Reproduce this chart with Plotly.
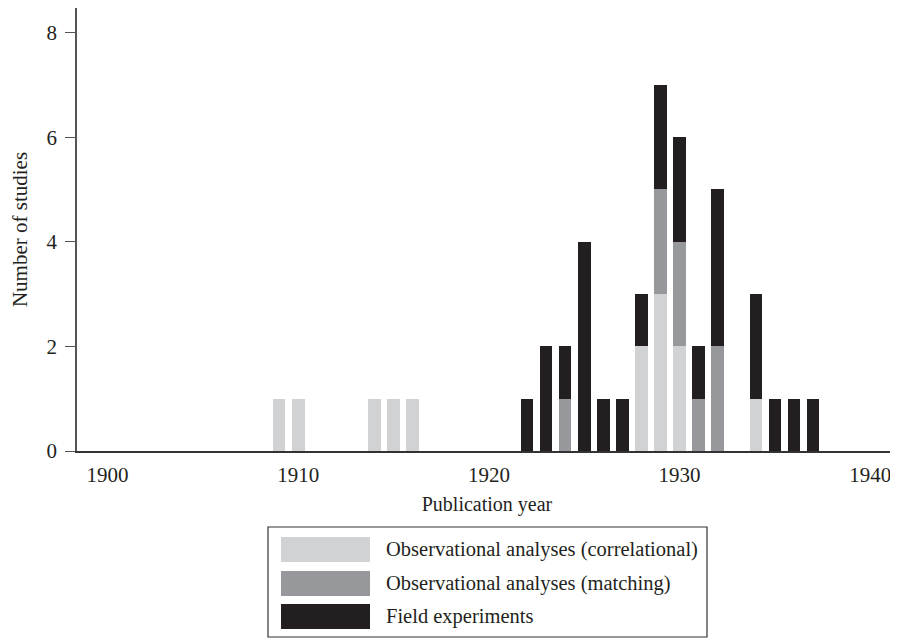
import plotly.graph_objects as go

years = [1909, 1910, 1914, 1915, 1916, 1922, 1923, 1924, 1925, 1926, 1927,
         1928, 1929, 1930, 1931, 1932, 1934, 1935, 1936, 1937]
correlational = [1, 1, 1, 1, 1, 0, 0, 0, 0, 0, 0, 2, 3, 2, 0, 0, 1, 0, 0, 0]
matching      = [0, 0, 0, 0, 0, 0, 0, 1, 0, 0, 0, 0, 2, 2, 1, 2, 0, 0, 0, 0]
field         = [0, 0, 0, 0, 0, 1, 2, 1, 4, 1, 1, 1, 2, 2, 1, 3, 2, 1, 1, 1]

series_names = ["Observational analyses (correlational)",
                "Observational analyses (matching)",
                "Field experiments"]
series_values = [correlational, matching, field]
colors = ["#d1d2d4", "#97989c", "#231f20"]

x_ticks = [1900, 1910, 1920, 1930, 1940]
y_ticks = [0, 2, 4, 6, 8]

FONT = "Liberation Serif"
TXT = "#231f20"

OFF = 8  # page body margin
W, H = 898 - OFF, 639 - OFF
L, R, T, B = 69, 1, 0, 188
PW, PH = W - L - R, H - T - B

def pxx(px):
    return (px - OFF - L) / PW

def pxy(py):
    return (H - B - (py - OFF)) / PH

fig = go.Figure()
for name, vals, col in zip(series_names, series_values, colors):
    fig.add_trace(go.Bar(x=years, y=vals, name=name, marker_color=col,
                         marker_line_width=0, width=0.66, showlegend=False))

fig.update_layout(
    barmode="stack",
    width=W, height=H,
    margin=dict(l=L, r=R, t=T, b=B, pad=0),
    plot_bgcolor="white", paper_bgcolor="white",
    font=dict(family=FONT, size=21, color=TXT),
    xaxis=dict(range=[1898.4, 1941.4], tickvals=x_ticks, showline=True,
               linecolor="#333333", linewidth=1.5, ticks="", showgrid=False,
               zeroline=False, ticklabelstandoff=4,
               title=dict(text="Publication year", standoff=11,
                          font=dict(size=20))),
    yaxis=dict(range=[0, 8.47], tickvals=y_ticks, showline=True,
               linecolor="#555555", linewidth=1.5, ticks="outside", ticklen=10,
               tickcolor="#555555", tickwidth=1.2, showgrid=False,
               zeroline=False, ticklabelstandoff=4,
               title=dict(text="Number of studies", standoff=18,
                          font=dict(size=21))),
)

# custom legend with large swatches (positions in screen pixels)
box = dict(x0=268, x1=707, y0=527, y1=637)
fig.add_shape(type="rect", xref="paper", yref="paper",
              x0=pxx(box["x0"]), x1=pxx(box["x1"]),
              y0=pxy(box["y1"]), y1=pxy(box["y0"]),
              line=dict(color="#333333", width=1.2), fillcolor="white")
row_tops = [537, 571, 604]
for name, col, top in zip(series_names, colors, row_tops):
    fig.add_shape(type="rect", xref="paper", yref="paper",
                  x0=pxx(281), x1=pxx(370), y0=pxy(top + 25), y1=pxy(top),
                  line=dict(width=0), fillcolor=col)
    fig.add_annotation(xref="paper", yref="paper", x=pxx(384),
                       y=pxy(top + 12.5), text=name, showarrow=False,
                       xanchor="left", yanchor="middle",
                       font=dict(family=FONT, size=20.5, color=TXT))

fig.write_html("out.html")
